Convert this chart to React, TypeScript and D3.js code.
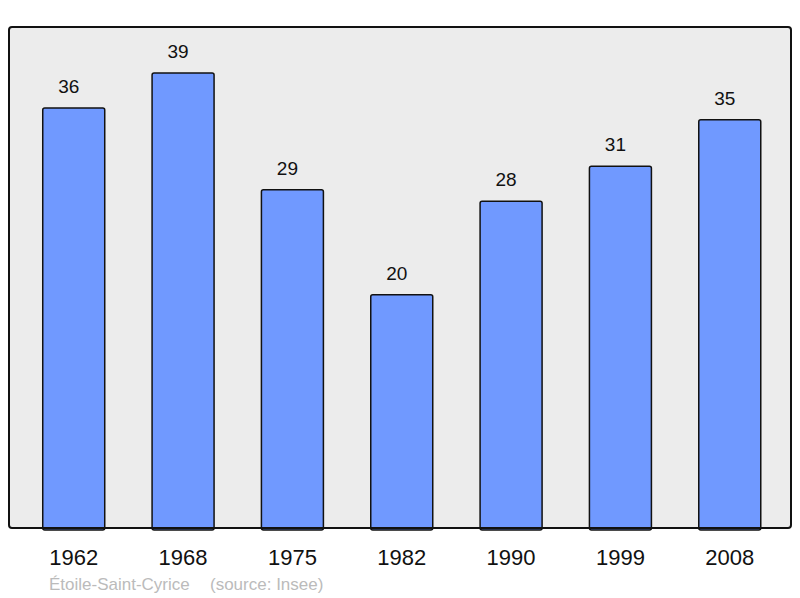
import { useEffect, useRef } from 'react'
import * as d3 from 'd3'

const years = ['1962', '1968', '1975', '1982', '1990', '1999', '2008']
const population = [36, 39, 29, 20, 28, 31, 35]
const placeName = 'Étoile-Saint-Cyrice'
const sourceText = '(source: Insee)'

export default function App() {
  const ref = useRef<SVGSVGElement | null>(null)

  useEffect(() => {
    const svg = d3.select(ref.current)
    svg.selectAll('*').remove()
    const width = 800
    const height = 598
    const frame = { left: 9, top: 27, right: 791, bottom: 528 }
    const font = '"Liberation Sans", Arial, sans-serif'

    svg.attr('width', width).attr('height', height).attr('viewBox', `0 0 ${width} ${height}`)

    const x = d3
      .scaleBand<string>()
      .domain(years)
      .range([9, 794.5])
      .paddingInner(0.433)
      .paddingOuter(0.3086)

    // 0 sits on the frame's bottom edge
    const y = d3.scaleLinear().domain([0, 42.94]).range([frame.bottom, frame.top])

    svg
      .append('rect')
      .attr('x', frame.left)
      .attr('y', frame.top)
      .attr('width', frame.right - frame.left)
      .attr('height', frame.bottom - frame.top)
      .attr('rx', 3)
      .attr('fill', '#ececec')

    const rows = years.map((yr, i) => ({ yr, v: population[i] }))

    svg
      .selectAll('rect.bar')
      .data(rows)
      .enter()
      .append('rect')
      .attr('class', 'bar')
      .attr('x', (d) => x(d.yr)!)
      .attr('y', (d) => y(d.v))
      .attr('width', x.bandwidth())
      .attr('height', (d) => y(0) - y(d.v) + 2)
      .attr('rx', 2)
      .attr('fill', '#7099ff')
      .attr('stroke', '#111')
      .attr('stroke-width', 1.5)

    svg
      .selectAll('text.val')
      .data(rows)
      .enter()
      .append('text')
      .attr('class', 'val')
      .attr('x', (d) => x(d.yr)! + x.bandwidth() / 2 - 5)
      .attr('y', (d) => y(d.v) - 15)
      .attr('text-anchor', 'middle')
      .attr('font-family', font)
      .attr('font-size', 19)
      .attr('fill', '#111')
      .text((d) => d.v)

    svg
      .append('rect')
      .attr('x', frame.left)
      .attr('y', frame.top)
      .attr('width', frame.right - frame.left)
      .attr('height', frame.bottom - frame.top)
      .attr('rx', 3)
      .attr('fill', 'none')
      .attr('stroke', '#111')
      .attr('stroke-width', 2)

    svg
      .selectAll('text.year')
      .data(years)
      .enter()
      .append('text')
      .attr('class', 'year')
      .attr('x', (d) => x(d)! + x.bandwidth() / 2)
      .attr('y', 565)
      .attr('text-anchor', 'middle')
      .attr('font-family', font)
      .attr('font-size', 22)
      .attr('fill', '#111')
      .text((d) => d)

    const foot = svg
      .append('text')
      .attr('x', 49)
      .attr('y', 590)
      .attr('font-family', font)
      .attr('font-size', 17)
      .attr('fill', '#bbbbbb')
    foot.append('tspan').text(placeName)
    foot.append('tspan').attr('x', 210).text(sourceText)
  }, [])

  return (
    <div style={{ position: 'absolute', left: 0, top: 0 }}>
      <svg ref={ref} style={{ display: 'block' }} />
    </div>
  )
}
